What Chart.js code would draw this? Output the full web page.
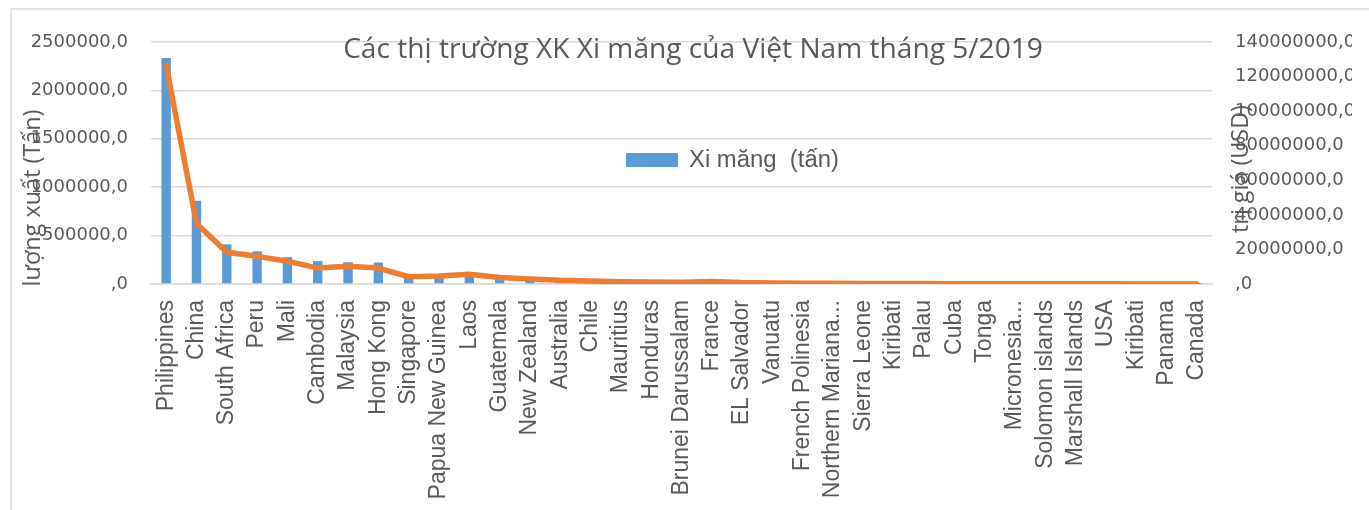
<!DOCTYPE html>
<html>
<head>
<meta charset="utf-8">
<script src="https://cdn.jsdelivr.net/npm/chart.js@4.4.1/dist/chart.umd.min.js"></script>
<style>
  html, body { margin: 0; padding: 0; background: #fff; }
  canvas { display: block; }
</style>
</head>
<body>
<canvas id="xkChart" width="1369" height="510"></canvas>
<script>
// Thị trường (trục hoành)
const markets = ['Philippines', 'China', 'South Africa', 'Peru', 'Mali', 'Cambodia', 'Malaysia', 'Hong Kong',
    'Singapore', 'Papua New Guinea', 'Laos', 'Guatemala', 'New Zealand', 'Australia', 'Chile', 'Mauritius',
    'Honduras', 'Brunei Darussalam', 'France', 'EL Salvador', 'Vanuatu', 'French Polinesia', 'Northern Mariana...',
    'Sierra Leone', 'Kiribati', 'Palau', 'Cuba', 'Tonga', 'Micronesia...', 'Solomon islands', 'Marshall Islands',
    'USA', 'Kiribati', 'Panama', 'Canada'];

// Lượng xuất (tấn) - cột
const volumeTons = [2336000, 860000, 410000, 338000, 277000, 236000, 225000, 222000,
    80000, 80000, 90000, 50000, 35000, 25000, 20000, 15000,
    14000, 12000, 15000, 12000, 9000, 8000, 7000,
    5000, 5000, 4000, 4000, 3000, 3000, 2500, 2000,
    1500, 1200, 800, 500];

// Trị giá (USD) - đường
const valueUsd = [126600000, 35000000, 18400000, 16000000, 13200000, 9200000, 10300000, 9200000,
    4200000, 4600000, 5600000, 3800000, 2900000, 2100000, 1700000, 1300000,
    1200000, 1000000, 1500000, 800000, 600000, 500000, 400000,
    300000, 300000, 250000, 200000, 200000, 150000, 120000, 100000,
    80000, 50000, 40000, 20000];

// Ticks des axes
const leftTicks = [0, 500000, 1000000, 1500000, 2000000, 2500000];
const rightTicks = [0, 20000000, 40000000, 60000000, 80000000, 100000000, 120000000, 140000000];

const chartTitle = 'Các thị trường XK Xi măng của Việt Nam tháng 5/2019';
const legendLabel = 'Xi măng  (tấn)';
const leftAxisTitle = 'lượng xuất (Tấn)';
const rightAxisTitle = 'trị giá (USD)';

const textColor = '#595959';
const gridColor = '#D9D9D9';
const barColor = '#5B9BD5';
const lineColor = '#ED7D31';

function fmt(v) {
    return v === 0 ? ',0' : v + ',0';
}

// taille de police pour une largeur donnée
function fitFont(ctx, text, family, target) {
    ctx.font = '20px ' + family;
    const w = ctx.measureText(text).width;
    return (20 * target / w).toFixed(2) + 'px ' + family;
}

const decorPlugin = {
    id: 'decor',
    beforeDraw(chart) {
        const ctx = chart.ctx;
        ctx.save();
        ctx.strokeStyle = gridColor;
        ctx.lineWidth = 1.5;
        ctx.strokeRect(11, 9, 2000, 1000);
        ctx.restore();
    },
    afterDraw(chart) {
        const ctx = chart.ctx;
        ctx.save();
        ctx.fillStyle = textColor;
        ctx.textBaseline = 'middle';

        // titre
        ctx.textAlign = 'center';
        ctx.font = fitFont(ctx, chartTitle, '"Open Sans"', 700);
        ctx.fillText(chartTitle, 693, 50);

        // légende
        ctx.fillStyle = barColor;
        ctx.fillRect(626, 153, 52, 14);
        ctx.fillStyle = textColor;
        ctx.textAlign = 'left';
        ctx.font = fitFont(ctx, legendLabel, '"Liberation Sans"', 150);
        ctx.fillText(legendLabel, 689, 160);

        // titres des axes
        ctx.textAlign = 'center';
        ctx.save();
        ctx.translate(33, 198);
        ctx.rotate(-Math.PI / 2);
        ctx.font = fitFont(ctx, leftAxisTitle, '"Open Sans"', 177);
        ctx.fillText(leftAxisTitle, 0, 0);
        ctx.restore();

        ctx.save();
        ctx.translate(1241, 169);
        ctx.rotate(-Math.PI / 2);
        ctx.font = fitFont(ctx, rightAxisTitle, '"Open Sans"', 128);
        ctx.fillText(rightAxisTitle, 0, 0);
        ctx.restore();

        ctx.restore();
    }
};

const ctx = document.getElementById('xkChart').getContext('2d');
new Chart(ctx, {
    type: 'bar',
    data: {
        labels: markets,
        datasets: [
            {
                type: 'line',
                label: 'Trị giá (USD)',
                data: valueUsd,
                yAxisID: 'y1',
                borderColor: lineColor,
                backgroundColor: lineColor,
                borderWidth: 5.5,
                pointRadius: 0,
                tension: 0,
                borderCapStyle: 'round',
                borderJoinStyle: 'round',
                order: 0
            },
            {
                type: 'bar',
                label: legendLabel,
                data: volumeTons,
                yAxisID: 'y',
                backgroundColor: barColor,
                barPercentage: 0.62,
                categoryPercentage: 0.5,
                order: 1
            }
        ]
    },
    options: {
        responsive: false,
        animation: false,
        events: [],
        layout: { padding: { left: 21, right: 17, top: 42, bottom: 0 } },
        plugins: {
            legend: { display: false },
            title: { display: false },
            tooltip: { enabled: false }
        },
        scales: {
            x: {
                grid: { display: false, drawTicks: false },
                border: { display: true, color: gridColor, width: 1.5 },
                ticks: {
                    autoSkip: false,
                    minRotation: 90,
                    maxRotation: 90,
                    padding: 16,
                    color: textColor,
                    font: { family: '"Liberation Sans"', size: 23 }
                },
                afterFit: s => { s.height = 226; }
            },
            y: {
                position: 'left',
                min: 0,
                max: 2500000,
                afterBuildTicks: s => { s.ticks = leftTicks.map(v => ({ value: v })); },
                ticks: {
                    callback: fmt,
                    padding: 23,
                    color: textColor,
                    font: { family: '"DejaVu Sans"', size: 18 }
                },
                grid: { color: gridColor, lineWidth: 1.5, drawTicks: false },
                border: { display: false },
                afterFit: s => { s.width = 130; }
            },
            y1: {
                position: 'right',
                min: 0,
                max: 140000000,
                afterBuildTicks: s => { s.ticks = rightTicks.map(v => ({ value: v })); },
                ticks: {
                    callback: fmt,
                    padding: 23,
                    color: textColor,
                    font: { family: '"DejaVu Sans"', size: 18 }
                },
                grid: { display: false, drawTicks: false },
                border: { display: false },
                afterFit: s => { s.width = 140; }
            }
        }
    },
    plugins: [decorPlugin]
});
</script>
</body>
</html>
